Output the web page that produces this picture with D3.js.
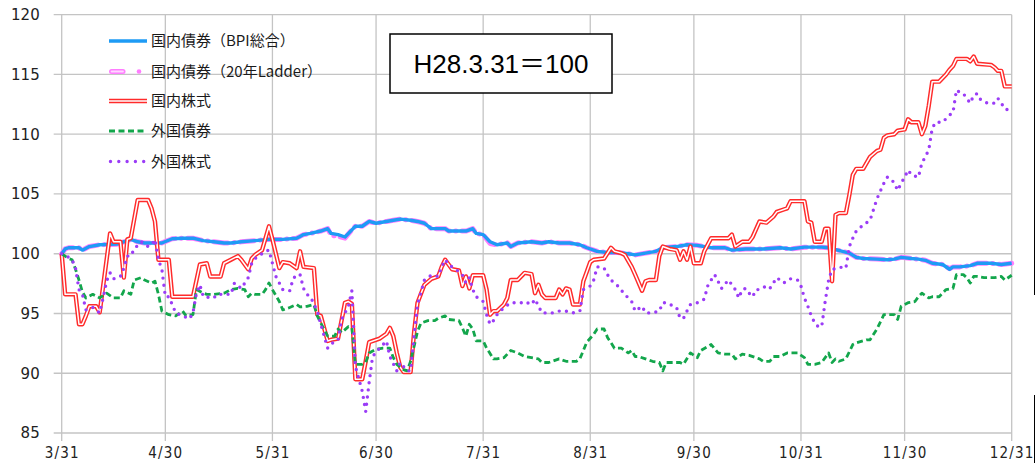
<!DOCTYPE html>
<html><head><meta charset="utf-8">
<script src="https://cdn.jsdelivr.net/npm/d3@7"></script>
<style>body{margin:0;background:#fff;} svg{display:block;}</style>
</head><body><svg id="c" width="1035" height="463"></svg>
<script>
// ---------------- DATA ----------------
const xTickLabels = ["3/31","4/30","5/31","6/30","7/31","8/31","9/30","10/31","11/30","12/31"];
const yTicks = [85,90,95,100,105,110,115,120];
const seriesNames = ["国内債券（BPI総合）","国内債券（20年Ladder）","国内株式","外国債券","外国株式"];
const baseNote = "H28.3.31＝100";

const bpiDates = ["3/31","4/1","4/2","4/5","4/6","4/8","4/11","4/16","4/20","4/22","4/24","4/26","4/29","5/2","5/5","5/8","5/11","5/14","5/17","5/19","5/22","5/26","5/30","6/3","6/7","6/8","6/9","6/11","6/14","6/16","6/17","6/19","6/21","6/23","6/24","6/26","6/28","6/30","7/3","7/5","7/7","7/10","7/12","7/14","7/16","7/18","7/20","7/21","7/23","7/26","7/28","7/29","7/31","8/2","8/4","8/7","8/8","8/10","8/14","8/17","8/19","8/22","8/25","8/28","8/30","9/2","9/5","9/8","9/11","9/13","9/16","9/19","9/21","9/25","9/28","10/1","10/5","10/9","10/11","10/15","10/20","10/25","10/28","11/1","11/6","11/8","11/12","11/14","11/16","11/18","11/22","11/25","11/27","11/29","12/2","12/4","12/6","12/8","12/11","12/13","12/14","12/16","12/19","12/21","12/25","12/28","12/31"];
const bpiValues = [100,100.4,100.5,100.5,100.3,100.6,100.75,100.8,101.2,101.0,100.9,100.9,100.9,101.25,101.3,101.3,101.1,101.0,100.9,100.9,101.0,101.1,101.2,101.2,101.3,101.45,101.6,101.7,101.9,102.1,101.7,101.6,101.4,102.0,102.3,102.3,102.7,102.55,102.7,102.8,102.9,102.8,102.7,102.55,102.1,102.1,102.1,101.9,101.9,101.9,102.1,101.7,101.6,101.0,100.75,100.9,100.6,100.9,101.0,100.9,101.0,100.9,100.9,100.75,100.5,100.2,100.1,100.1,100.0,99.9,100.05,100.2,100.5,100.6,100.75,100.7,100.5,100.5,100.3,100.4,100.4,100.5,100.4,100.55,100.55,100.5,100.2,100.05,99.7,99.6,99.55,99.5,99.55,99.7,99.6,99.55,99.45,99.2,99.1,98.7,98.9,98.9,99.0,99.2,99.2,99.1,99.2];
const ladderValues = [100,100.4,100.5,100.5,100.3,100.6,100.75,100.8,101.2,101.0,100.9,100.9,100.9,101.25,101.3,101.3,101.1,101.0,100.9,100.9,101.0,101.1,101.2,101.2,101.3,101.45,101.6,101.7,101.9,102.1,101.55,101.45,101.3,102.0,102.3,102.3,102.7,102.55,102.7,102.8,102.9,102.8,102.7,102.55,102.1,102.1,102.1,101.9,101.9,101.9,102.1,101.7,101.6,100.85,100.75,100.9,100.6,100.9,101.0,100.9,101.0,100.9,100.9,100.75,100.5,100.2,100.1,100.1,100.0,99.9,100.05,100.2,100.5,100.6,100.75,100.7,100.5,100.5,100.3,100.4,100.4,100.5,100.4,100.55,100.55,100.5,100.2,100.05,99.7,99.6,99.55,99.5,99.55,99.7,99.6,99.55,99.45,99.2,99.1,98.75,98.9,98.9,99.0,99.2,99.2,99.1,99.2];

const jpStockDates = ["3/31","4/1","4/4","4/5","4/6","4/7","4/8","4/10","4/11","4/14","4/15","4/17","4/18","4/19","4/20","4/22","4/25","4/26","4/27","4/28","5/1","5/2","5/8","5/10","5/12","5/13","5/16","5/17","5/19","5/21","5/22","5/24","5/25","5/26","5/28","5/30","5/31","6/2","6/3","6/5","6/7","6/8","6/9","6/12","6/13","6/14","6/16","6/17","6/19","6/21","6/22","6/23","6/24","6/26","6/27","6/28","7/1","7/3","7/4","7/5","7/6","7/7","7/8","7/10","7/11","7/12","7/14","7/16","7/18","7/19","7/20","7/21","7/22","7/24","7/25","7/26","7/27","7/28","7/31","8/1","8/2","8/3","8/4","8/6","8/7","8/8","8/10","8/12","8/14","8/15","8/16","8/17","8/18","8/21","8/22","8/23","8/24","8/25","8/26","8/28","8/29","8/30","8/31","9/1","9/4","9/6","9/7","9/9","9/10","9/12","9/13","9/15","9/16","9/17","9/19","9/20","9/21","9/23","9/25","9/26","9/27","9/28","9/29","9/30","10/2","10/3","10/5","10/10","10/11","10/12","10/14","10/16","10/17","10/19","10/21","10/23","10/24","10/26","10/27","10/28","11/1","11/2","11/3","11/4","11/6","11/7","11/8","11/9","11/10","11/11","11/13","11/14","11/15","11/16","11/18","11/20","11/22","11/23","11/24","11/25","11/27","11/28","11/30","12/1","12/2","12/4","12/5","12/6","12/7","12/8","12/10","12/12","12/13","12/14","12/15","12/18","12/19","12/20","12/21","12/25","12/26","12/27","12/28","12/29","12/31"];
const jpStockValues = [100,96.6,96.6,94.1,94.1,94.8,95.6,95.6,95.1,101.7,101.0,101.0,98.0,101.2,101.3,104.5,104.5,103.8,102.7,99.5,99.5,96.4,96.4,99.1,99.2,98.1,98.1,99.2,99.5,99.8,99.5,98.7,99.6,99.9,100.3,102.3,101.2,98.8,99.3,99.2,98.8,100.2,98.9,98.8,94.9,94.8,92.7,92.8,92.9,95.9,96.0,95.8,89.5,89.5,91.0,92.6,92.9,93.3,93.8,93.1,91.7,90.5,90.1,90.1,93.4,95.9,97.4,97.9,98.1,98.9,99.5,99.1,98.7,98.6,97.3,98.1,97.1,98.2,98.2,97.0,94.9,95.2,95.2,95.75,96.3,97.8,97.8,98.4,98.3,96.7,97.4,96.6,96.3,96.3,97.0,96.6,97.1,97.0,95.75,95.75,97.7,98.5,99.3,99.5,99.6,100.5,100.2,100.05,99.9,98.9,98.25,96.9,97.7,97.8,97.8,99.8,100.6,100.4,100.3,99.5,100.2,99.5,100.6,99.2,99.2,100.2,101.3,101.3,101.6,100.6,101.0,101.0,101.4,102.7,102.6,103.1,103.5,103.7,103.8,104.4,104.4,102.7,102.6,101.0,101.0,102.1,102.1,97.7,103.25,103.4,103.4,104.9,106.6,107.1,107.1,108.1,108.6,108.7,109.7,109.9,110.0,110.3,110.4,111.25,111.0,111.0,110.0,110.7,112.4,114.4,114.4,115.0,115.4,115.7,116.3,116.3,116.1,116.5,115.9,115.8,115.6,115.3,115.3,114.0,114.0];

const fgBondDates = ["3/31","4/2","4/3","4/4","4/5","4/6","4/7","4/9","4/11","4/13","4/15","4/17","4/18","4/20","4/21","4/23","4/24","4/26","4/27","4/28","4/29","4/30","5/1","5/3","5/5","5/6","5/8","5/9","5/11","5/12","5/14","5/17","5/19","5/21","5/23","5/24","5/25","5/26","5/28","5/29","5/30","5/31","6/2","6/3","6/5","6/7","6/8","6/10","6/12","6/13","6/14","6/16","6/18","6/19","6/20","6/22","6/23","6/24","6/26","6/27","6/28","6/30","7/2","7/4","7/5","7/6","7/8","7/9","7/10","7/12","7/13","7/15","7/17","7/18","7/20","7/21","7/24","7/25","7/26","7/27","7/28","7/29","7/31","8/1","8/3","8/4","8/6","8/8","8/10","8/12","8/14","8/16","8/17","8/19","8/22","8/24","8/27","8/28","8/30","9/1","9/2","9/4","9/5","9/7","9/9","9/11","9/12","9/13","9/14","9/16","9/18","9/20","9/21","9/22","9/24","9/26","9/27","9/29","10/1","10/2","10/5","10/7","10/9","10/11","10/12","10/14","10/16","10/19","10/20","10/22","10/23","10/25","10/27","10/28","10/30","11/1","11/2","11/4","11/6","11/8","11/9","11/10","11/11","11/13","11/15","11/16","11/19","11/20","11/22","11/24","11/27","11/28","11/29","12/1","12/3","12/4","12/5","12/7","12/8","12/10","12/12","12/14","12/15","12/17","12/18","12/19","12/20","12/21","12/23","12/26","12/28","12/29","12/31"];
const fgBondValues = [100,99.6,99.5,98.7,97.8,96.8,96.3,96.6,96.3,96.7,96.3,96.3,96.9,96.6,97.8,98.0,97.8,97.55,97.7,96.6,95.2,95.05,94.9,94.8,95.2,94.8,94.9,97.0,96.7,96.6,96.6,96.7,97.0,97.1,97.0,96.4,96.7,96.6,96.6,97.0,97.55,97.0,96.0,95.3,95.5,95.75,95.55,95.6,95.75,94.8,94.2,93.1,93.1,93.7,93.4,93.9,93.8,90.75,90.75,90.9,91.7,92.0,92.1,92.1,91.3,90.75,90.3,90.2,91.0,93.5,94.2,94.4,94.4,94.6,94.8,94.5,94.4,93.8,93.1,94.1,93.7,92.7,92.7,92.1,91.2,91.2,91.3,91.9,91.7,91.4,91.3,91.2,90.9,90.9,91.2,91.0,91.0,91.2,92.6,93.25,93.7,93.7,93.0,92.1,92.1,91.7,91.9,91.4,91.4,91.2,91.0,90.9,90.2,90.9,90.9,90.9,90.75,91.7,91.3,91.9,92.4,91.7,91.6,91.6,91.2,91.6,91.5,91.2,91.0,91.0,91.4,91.4,91.7,91.7,91.7,91.3,90.75,90.75,90.9,91.7,90.9,91.2,91.0,91.2,92.4,92.55,92.8,92.8,93.7,94.9,94.9,94.5,95.6,95.9,96.0,96.4,96.7,96.3,96.4,96.4,97.0,97.1,98.25,98.25,98.0,97.55,98.1,98.1,98.0,98.0,98.1,97.8,98.2];

const fgStockDates = ["3/31","4/2","4/3","4/4","4/5","4/6","4/7","4/9","4/11","4/12","4/13","4/14","4/15","4/17","4/18","4/19","4/20","4/21","4/23","4/25","4/26","4/27","4/28","4/29","4/30","5/1","5/2","5/3","5/5","5/7","5/8","5/9","5/10","5/11","5/14","5/15","5/17","5/19","5/20","5/22","5/23","5/24","5/25","5/26","5/27","5/29","5/30","5/31","6/1","6/2","6/3","6/5","6/6","6/7","6/8","6/9","6/10","6/11","6/13","6/14","6/16","6/18","6/19","6/20","6/22","6/23","6/24","6/26","6/27","6/28","6/29","7/1","7/3","7/4","7/6","7/7","7/9","7/10","7/11","7/12","7/14","7/16","7/18","7/19","7/20","7/21","7/22","7/24","7/25","7/26","7/27","7/28","7/29","7/31","8/1","8/2","8/3","8/4","8/6","8/8","8/11","8/12","8/14","8/15","8/17","8/20","8/22","8/24","8/26","8/28","8/29","8/31","9/1","9/2","9/3","9/4","9/5","9/6","9/8","9/10","9/12","9/13","9/15","9/16","9/18","9/20","9/21","9/22","9/25","9/26","9/27","9/28","9/29","10/1","10/3","10/4","10/5","10/6","10/7","10/8","10/10","10/11","10/12","10/13","10/14","10/15","10/16","10/17","10/18","10/19","10/21","10/22","10/23","10/24","10/26","10/28","10/30","10/31","11/1","11/2","11/3","11/4","11/5","11/6","11/7","11/8","11/9","11/11","11/12","11/13","11/14","11/15","11/16","11/18","11/20","11/22","11/24","11/25","11/26","11/27","11/28","11/29","11/30","12/1","12/2","12/4","12/5","12/6","12/7","12/8","12/9","12/11","12/13","12/14","12/15","12/16","12/17","12/19","12/20","12/21","12/22","12/24","12/26","12/27","12/28","12/29","12/31"];
const fgStockValues = [100,99.7,99.5,98.8,97.0,96.6,95.3,95.5,95.05,96.3,97.7,98.4,97.9,98.1,98.8,99.8,99.8,100.4,101.0,100.6,100.75,101.2,99.5,98.7,96.4,96.4,95.75,95.05,94.8,94.55,95.05,96.7,97.4,96.4,96.3,96.6,96.6,96.6,97.55,97.1,97.55,98.0,99.2,99.6,99.8,100.2,100.3,99.2,98.1,97.55,97.0,96.9,97.9,98.25,98.25,97.1,96.6,96.4,95.2,94.1,92.1,92.7,92.8,94.5,95.6,96.9,90.6,88.5,86.8,89.25,91.4,92.1,92.7,91.4,90.2,90.9,90.2,90.2,93.1,95.75,97.8,98.2,98.1,98.9,99.5,99.1,98.9,98.5,98.25,97.55,98.0,97.0,96.4,96.0,94.9,94.1,94.4,94.9,95.5,95.9,95.9,96.0,95.75,96.2,95.05,95.05,95.2,95.2,95.05,95.2,97.0,97.3,97.8,98.9,98.9,98.8,98.25,97.8,97.3,96.6,96.0,95.2,95.6,95.05,95.05,95.2,95.9,95.9,95.5,94.6,94.6,95.2,95.75,95.9,96.2,97.3,97.8,98.25,97.7,97.1,97.8,97.4,97.0,96.3,97.0,97.1,96.7,96.4,97.0,97.0,97.3,97.1,97.55,98.0,97.55,97.9,97.8,97.3,96.3,95.6,94.8,94.2,93.9,93.9,96.0,97.8,98.7,98.8,98.9,98.8,100.6,101.3,101.9,102.4,102.8,104.6,105.9,106.4,106.3,105.9,105.3,105.9,106.4,107.0,106.6,106.4,107.6,108.1,108.7,110.5,111.0,111.0,111.6,111.8,113.7,113.5,113.4,112.6,113.25,113.4,112.9,112.6,112.6,113.0,112.6,112.1,112.0];

// ---------------- SETUP ----------------
const parseMD = s => { const [m, d] = s.split("/").map(Number); return new Date(2016, m - 1, d); };
const zip = (ds, vs) => ds.slice(0, Math.min(ds.length, vs.length)).map((d, i) => ({date: parseMD(d), v: vs[i]}));

const svg = d3.select("#c");
const L = 61.7, R = 1011.7, T = 14.7, B = 433;
const x = d3.scaleTime().domain([parseMD("3/31"), parseMD("12/31")]).range([L, R]);
const y = d3.scaleLinear().domain([85, 120]).range([B, T]);

const gridColor = "#c4c4c4";
svg.append("g").selectAll("line").data(yTicks).join("line")
  .attr("x1", L - 8).attr("x2", R).attr("y1", d => y(d)).attr("y2", d => y(d))
  .attr("stroke", gridColor).attr("stroke-width", 1.3);
svg.append("g").selectAll("line").data(xTickLabels).join("line")
  .attr("x1", d => x(parseMD(d))).attr("x2", d => x(parseMD(d)))
  .attr("y1", T).attr("y2", B + 8)
  .attr("stroke", gridColor).attr("stroke-width", 1.3);

const yAxis = svg.append("g").attr("transform", `translate(${L},0)`)
  .call(d3.axisLeft(y).tickValues(yTicks).tickSize(0).tickPadding(22).tickFormat(d3.format("d")));
yAxis.select(".domain").remove();
yAxis.selectAll("text").attr("font-family", "'DejaVu Sans', sans-serif").attr("font-size", 15).attr("fill", "#222");

const xAxis = svg.append("g").attr("transform", `translate(0,${B})`)
  .call(d3.axisBottom(x).tickValues(xTickLabels.map(parseMD)).tickSize(0).tickPadding(14)
    .tickFormat((d, i) => xTickLabels[i]));
xAxis.select(".domain").remove();
xAxis.selectAll("text").attr("font-family", "'DejaVu Sans Condensed','DejaVu Sans', sans-serif")
  .attr("font-size", 15).attr("letter-spacing", 1.2).attr("fill", "#222");

// ---------------- SERIES ----------------
const line = d3.line().x(d => x(d.date)).y(d => y(d.v)).curve(d3.curveLinear);
const gS = svg.append("g").attr("fill", "none").attr("stroke-linejoin", "round");

const pinkCol = "#ff7dff", blueCol = "#1e9bf5", redCol = "#ff2b2b", greenCol = "#13a64c", purpleCol = "#9b3cf7";

gS.append("path").attr("d", line(zip(bpiDates, ladderValues)))
  .attr("stroke", pinkCol).attr("stroke-width", 5).attr("stroke-dasharray", "14,6,0.5,6").attr("stroke-linecap", "round");
gS.append("path").attr("d", line(zip(bpiDates, bpiValues)))
  .attr("stroke", blueCol).attr("stroke-width", 3.4);
const jp = zip(jpStockDates, jpStockValues);
gS.append("path").attr("d", line(jp)).attr("stroke", redCol).attr("stroke-width", 4.4);
gS.append("path").attr("d", line(jp)).attr("stroke", "#fff").attr("stroke-width", 1.5);
gS.append("path").attr("d", line(zip(fgBondDates, fgBondValues)))
  .attr("stroke", greenCol).attr("stroke-width", 2.8).attr("stroke-dasharray", "6,3.5");
gS.append("path").attr("d", line(zip(fgStockDates, fgStockValues)))
  .attr("stroke", purpleCol).attr("stroke-width", 3.4).attr("stroke-dasharray", "0,7.2").attr("stroke-linecap", "round");

// ---------------- LEGEND ----------------
const lg = svg.append("g");
const legY = [41, 71.5, 101, 131, 161.5];
const lx1 = 109, lx2 = 147;
lg.append("line").attr("x1", lx1).attr("x2", lx2).attr("y1", legY[0]).attr("y2", legY[0]).attr("stroke", blueCol).attr("stroke-width", 3.4);
lg.append("line").attr("x1", lx1 + 2.5).attr("x2", lx1 + 14).attr("y1", legY[1]).attr("y2", legY[1]).attr("stroke", pinkCol).attr("stroke-width", 5).attr("stroke-linecap", "round");
lg.append("line").attr("x1", lx1 + 2.5).attr("x2", lx1 + 14).attr("y1", legY[1]).attr("y2", legY[1]).attr("stroke", "#ffd8ff").attr("stroke-width", 1.8).attr("stroke-linecap", "round");
lg.append("circle").attr("cx", lx1 + 30).attr("cy", legY[1]).attr("r", 2.3).attr("fill", pinkCol);
lg.append("line").attr("x1", lx1).attr("x2", lx2).attr("y1", legY[2]).attr("y2", legY[2]).attr("stroke", redCol).attr("stroke-width", 4.4);
lg.append("line").attr("x1", lx1).attr("x2", lx2).attr("y1", legY[2]).attr("y2", legY[2]).attr("stroke", "#fff").attr("stroke-width", 1.5);
lg.append("line").attr("x1", lx1).attr("x2", lx2).attr("y1", legY[3]).attr("y2", legY[3]).attr("stroke", greenCol).attr("stroke-width", 2.8).attr("stroke-dasharray", "6,3.5");
lg.append("line").attr("x1", lx1 + 1.5).attr("x2", lx2).attr("y1", legY[4]).attr("y2", legY[4]).attr("stroke", purpleCol).attr("stroke-width", 3.4).attr("stroke-dasharray", "0,8.3").attr("stroke-linecap", "round");

lg.selectAll("text").data(seriesNames).join("text")
  .attr("x", 151).attr("y", (d, i) => legY[i]).attr("dy", "0.36em")
  .attr("font-family", "'Noto Sans CJK JP', 'Noto Sans', sans-serif").attr("font-size", 15).attr("fill", "#1a1a1a")
  .text(d => d);

// ---------------- NOTE BOX ----------------
svg.append("rect").attr("x", 390).attr("y", 34).attr("width", 222).attr("height", 59)
  .attr("fill", "#fff").attr("stroke", "#000").attr("stroke-width", 1.5);
svg.append("text").attr("x", 501).attr("y", 64).attr("dy", "0.35em").attr("text-anchor", "middle")
  .attr("font-family", "'Liberation Sans', 'Noto Sans CJK JP', sans-serif").attr("font-size", 26).attr("fill", "#000")
  .text(baseNote);

svg.append("line").attr("x1", 1034.5).attr("x2", 1034.5).attr("y1", 0).attr("y2", 295).attr("stroke", "#000").attr("stroke-width", 1);
svg.append("line").attr("x1", 1034.5).attr("x2", 1034.5).attr("y1", 395).attr("y2", 463).attr("stroke", "#000").attr("stroke-width", 1);
</script></body></html>
